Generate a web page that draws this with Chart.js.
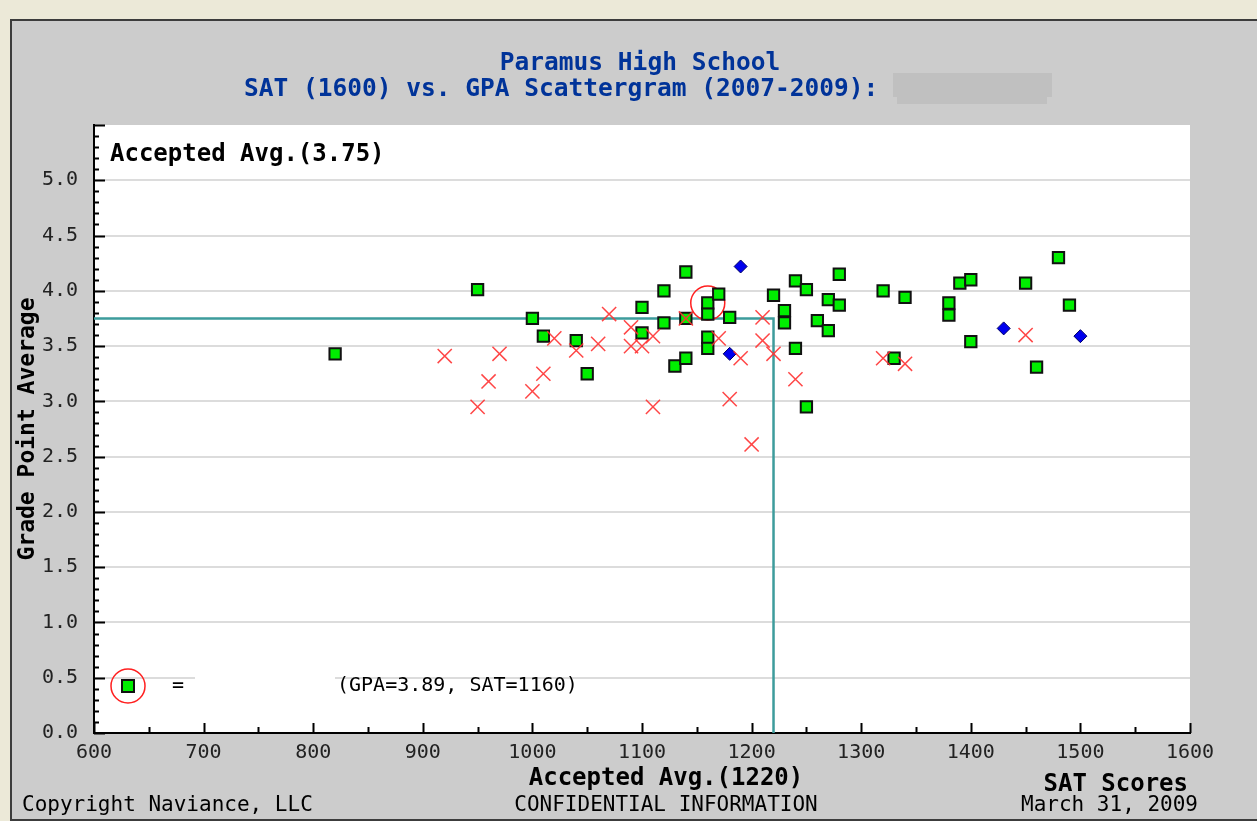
<!DOCTYPE html>
<html>
<head>
<meta charset="utf-8">
<script src="https://cdn.jsdelivr.net/npm/chart.js@4/dist/chart.umd.min.js"></script>
<style>
  html, body { margin: 0; padding: 0; width: 1257px; height: 821px; overflow: hidden; background: #ece9d8; }
  #panel { position: absolute; left: 10px; top: 19px; width: 1300px; height: 798px; background: #cccccc; border: 2px solid #3c3c3c; }
  #scatter { position: absolute; left: 0; top: 0; }
</style>
</head>
<body>
<div id="panel"></div>
<canvas id="scatter" width="1257" height="821"></canvas>
<script>
// Accepted students (green squares)
const acceptedSat = [820, 950, 1000, 1010, 1040, 1050, 1100, 1100, 1120, 1120, 1130, 1140, 1140, 1140,
  1160, 1160, 1160, 1160, 1170, 1180, 1220, 1230, 1230, 1240, 1240, 1250, 1250, 1260, 1270, 1270,
  1280, 1280, 1320, 1330, 1340, 1380, 1380, 1390, 1400, 1400, 1450, 1460, 1480, 1490];
const acceptedGpa = [3.43, 4.01, 3.75, 3.59, 3.55, 3.25, 3.85, 3.62, 4.00, 3.71, 3.32, 4.17, 3.75, 3.39,
  3.89, 3.79, 3.58, 3.48, 3.97, 3.76, 3.96, 3.82, 3.71, 4.09, 3.48, 4.01, 2.95, 3.73, 3.92, 3.64,
  3.87, 4.15, 4.00, 3.39, 3.94, 3.89, 3.78, 4.07, 4.10, 3.54, 4.07, 3.31, 4.30, 3.87];

// Denied students (red crosses)
const deniedSat = [920, 950, 960, 970, 1000, 1010, 1020, 1040, 1060, 1070, 1090, 1090, 1100, 1110,
  1110, 1140, 1170, 1180, 1190, 1200, 1210, 1210, 1220, 1240, 1320, 1340, 1450];
const deniedGpa = [3.41, 2.95, 3.18, 3.43, 3.09, 3.25, 3.57, 3.46, 3.52, 3.79, 3.67, 3.50, 3.50, 3.59,
  2.95, 3.75, 3.57, 3.02, 3.39, 2.61, 3.76, 3.55, 3.43, 3.20, 3.39, 3.34, 3.60];

// Waitlisted students (blue diamonds)
const waitlistSat = [1180, 1190, 1430, 1500];
const waitlistGpa = [3.43, 4.22, 3.66, 3.59];

const xTicks = [600, 700, 800, 900, 1000, 1100, 1200, 1300, 1400, 1500, 1600];
const yTicks = [0.0, 0.5, 1.0, 1.5, 2.0, 2.5, 3.0, 3.5, 4.0, 4.5, 5.0];

const avgSat = 1220;
const avgGpa = 3.75;
const studentSat = 1160;
const studentGpa = 3.89;

const titleLines = ['Paramus High School', 'SAT (1600) vs. GPA Scattergram (2007-2009):'];

const mono = '"DejaVu Sans Mono", "Liberation Mono", monospace';
const toPoints = (xs, ys) => xs.map((x, i) => ({ x: x, y: ys[i] }));

const decor = {
  id: 'decor',
  beforeDraw(chart) {
    const { ctx, chartArea: a } = chart;
    ctx.save();
    ctx.fillStyle = '#ffffff';
    ctx.fillRect(a.left, a.top, a.right - a.left, a.bottom - a.top);
    ctx.restore();
  },
  beforeDatasetsDraw(chart) {
    const { ctx, chartArea: a, scales } = chart;
    const xs = scales.x, ys = scales.y;
    ctx.save();

    // blank strip where the name used to be in the key
    ctx.fillStyle = '#ffffff';
    ctx.fillRect(a.left + 101, a.bottom - 64, 140, 34);

    // tick marks pointing into the plot
    ctx.strokeStyle = '#000';
    ctx.lineWidth = 2;
    ctx.beginPath();
    for (let i = 0; i <= 55; i++) {
      const py = Math.round(ys.getPixelForValue(i / 10)) + 0.5;
      const len = i % 5 === 0 ? 11 : 5;
      ctx.moveTo(a.left, py);
      ctx.lineTo(a.left + len, py);
    }
    for (let v = 600; v <= 1600; v += 50) {
      const px = Math.round(xs.getPixelForValue(v)) + 0.5;
      const len = v % 100 === 0 ? 10 : 6;
      ctx.moveTo(px, a.bottom);
      ctx.lineTo(px, a.bottom - len);
    }
    ctx.stroke();

    // accepted average cross-hair
    const ax = xs.getPixelForValue(avgSat);
    const ay = ys.getPixelForValue(avgGpa);
    ctx.strokeStyle = '#3d9c9c';
    ctx.lineWidth = 2.5;
    ctx.beginPath();
    ctx.moveTo(a.left, ay);
    ctx.lineTo(ax, ay);
    ctx.lineTo(ax, a.bottom);
    ctx.stroke();

    // circle round this student's own point
    ctx.strokeStyle = '#ff2020';
    ctx.lineWidth = 1.5;
    ctx.beginPath();
    ctx.arc(xs.getPixelForValue(studentSat), ys.getPixelForValue(studentGpa), 17, 0, Math.PI * 2);
    ctx.stroke();
    ctx.restore();
  },
  afterDraw(chart) {
    const { ctx, chartArea: a } = chart;
    ctx.save();
    ctx.textBaseline = 'middle';

    // title
    ctx.fillStyle = '#003399';
    ctx.font = 'bold 24.5px ' + mono;
    ctx.textAlign = 'center';
    ctx.fillText(titleLines[0], 640, 64);
    ctx.textAlign = 'left';
    ctx.fillText(titleLines[1], 244, 90);
    ctx.fillStyle = '#c0c0c0';
    ctx.fillRect(893, 73, 159, 24);
    ctx.fillRect(897, 95, 150, 9);

    // average labels
    ctx.fillStyle = '#000';
    ctx.font = 'bold 24px ' + mono;
    ctx.fillText('Accepted Avg.(' + avgGpa.toFixed(2) + ')', a.left + 16, a.top + 30);
    ctx.textAlign = 'center';
    ctx.fillText('Accepted Avg.(' + avgSat + ')', 666, 779);
    ctx.textAlign = 'right';
    ctx.fillText('SAT Scores', a.right - 2, 785);

    // footer
    ctx.font = '21px ' + mono;
    ctx.fillText('March 31, 2009', a.right + 8, 806);
    ctx.textAlign = 'center';
    ctx.fillText('CONFIDENTIAL INFORMATION', 666, 806);
    ctx.textAlign = 'left';
    ctx.fillText('Copyright Naviance, LLC', 22, 806);

    // key for the circled point
    const kx = a.left + 34, ky = a.bottom - 47;
    ctx.strokeStyle = '#ff2020';
    ctx.lineWidth = 1.5;
    ctx.beginPath();
    ctx.arc(kx, ky, 17, 0, Math.PI * 2);
    ctx.stroke();
    ctx.fillStyle = '#00ee00';
    ctx.fillRect(kx - 6, ky - 6, 12, 12);
    ctx.strokeStyle = '#111';
    ctx.lineWidth = 2;
    ctx.strokeRect(kx - 6, ky - 6, 12, 12);
    ctx.fillStyle = '#000';
    ctx.font = '20px ' + mono;
    ctx.fillText('=', a.left + 78, ky);
    ctx.fillText('(GPA=' + studentGpa + ', SAT=' + studentSat + ')', a.left + 243, ky);
    ctx.restore();
  }
};

new Chart(document.getElementById('scatter'), {
  type: 'scatter',
  data: {
    datasets: [
      {
        label: 'Accepted',
        data: toPoints(acceptedSat, acceptedGpa),
        pointStyle: 'rect',
        pointRadius: 8,
        backgroundColor: '#00ee00',
        borderColor: '#111111',
        borderWidth: 2,
        order: 3
      },
      {
        label: 'Waitlisted',
        data: toPoints(waitlistSat, waitlistGpa),
        pointStyle: 'rectRot',
        pointRadius: 6.5,
        backgroundColor: '#0000ee',
        borderColor: '#000066',
        borderWidth: 1,
        order: 2
      },
      {
        label: 'Denied',
        data: toPoints(deniedSat, deniedGpa),
        pointStyle: 'crossRot',
        pointRadius: 10,
        backgroundColor: 'rgba(255,50,50,0.9)',
        borderColor: 'rgba(255,50,50,0.9)',
        borderWidth: 1.5,
        order: 1
      }
    ]
  },
  options: {
    responsive: false,
    animation: false,
    layout: { padding: { top: 125, right: 67, left: 0, bottom: 0 } },
    plugins: {
      legend: { display: false },
      tooltip: { enabled: false },
      title: { display: false }
    },
    scales: {
      x: {
        type: 'linear',
        min: xTicks[0],
        max: xTicks[xTicks.length - 1],
        afterFit: s => { s.height = 88; },
        afterBuildTicks: s => { s.ticks = xTicks.map(v => ({ value: v })); },
        grid: { display: false, drawTicks: false },
        border: { display: true, color: '#000', width: 2 },
        ticks: {
          padding: 8,
          color: '#222',
          font: { family: mono, size: 20 },
          callback: v => String(v)
        }
      },
      y: {
        min: 0,
        max: 5.5,
        afterFit: s => { s.width = 94; },
        afterBuildTicks: s => { s.ticks = yTicks.map(v => ({ value: v })); },
        grid: {
          drawTicks: false,
          color: c => (c.tick && c.tick.value > 0 ? '#dcdcdc' : 'rgba(0,0,0,0)'),
          lineWidth: 2
        },
        border: { display: true, color: '#000', width: 2 },
        ticks: {
          padding: 16,
          color: '#222',
          font: { family: mono, size: 20 },
          callback: v => v.toFixed(1)
        },
        title: {
          display: true,
          text: 'Grade Point Average',
          color: '#000',
          padding: { top: 14 },
          font: { family: mono, size: 23, weight: 'bold' }
        }
      }
    }
  },
  plugins: [decor]
});
</script>
</body>
</html>
